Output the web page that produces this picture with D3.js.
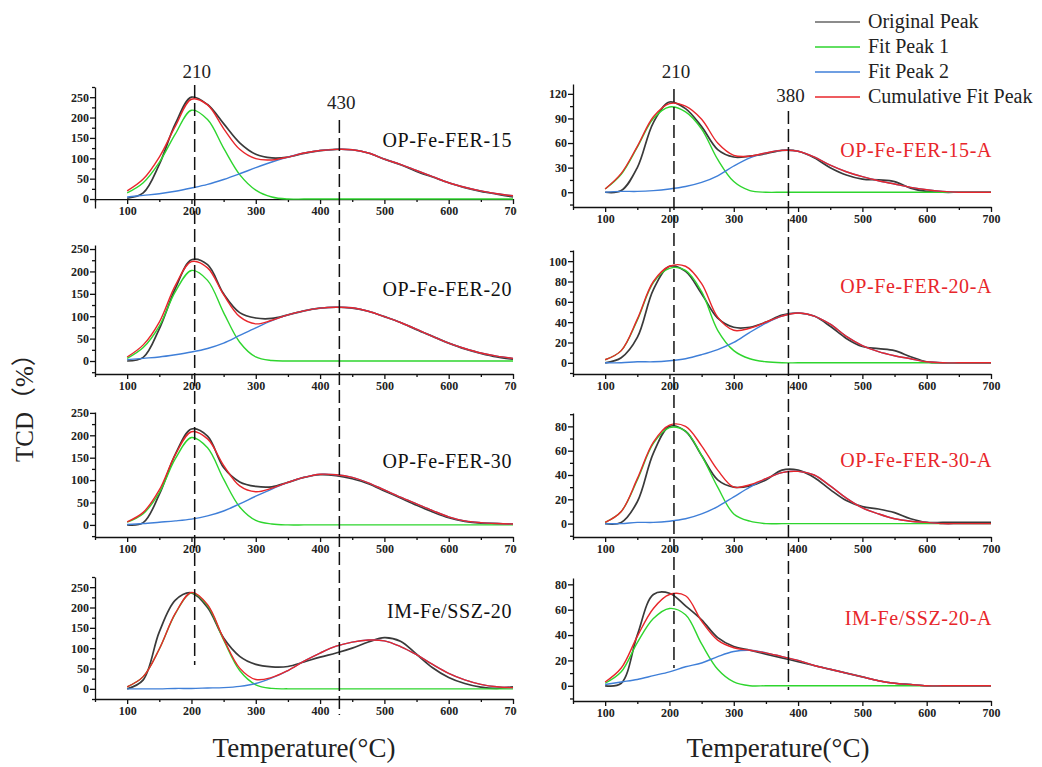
<!DOCTYPE html>
<html>
<head>
<meta charset="utf-8">
<script src="https://cdn.jsdelivr.net/npm/d3@7"></script>
<style>
  body { margin: 0; background: #fff; }
  svg { display: block; }
</style>
</head>
<body>
<svg id="chart" width="1042" height="767"></svg>
<script>
// temperatures (°C) at which the curves were read
const temps = [100,125,150,175,200,225,250,275,300,325,350,375,400,425,450,475,500,525,550,575,600,625,650,675,700];

// panel order: left column top->bottom, then right column top->bottom
const sampleNames = ["OP-Fe-FER-15","OP-Fe-FER-20","OP-Fe-FER-30","IM-Fe/SSZ-20",
                     "OP-Fe-FER-15-A","OP-Fe-FER-20-A","OP-Fe-FER-30-A","IM-Fe/SSZ-20-A"];

const originalPeak = [
  [2,15,85,185,250,232,185,138,110,101,103,112,119,122,121,113,98,84,68,54,40,28,19,12,5],
  [0,8,72,162,226,215,150,108,96,95,103,112,118,120,118,111,99,86,70,55,40,27,17,9,4],
  [0,5,68,158,214,198,128,96,86,85,95,106,112,110,103,92,76,60,44,29,16,8,4,3,2],
  [0,22,140,218,236,200,125,80,60,54,55,66,78,88,100,115,126,117,85,52,28,13,4,1,5],
  [0,2,30,85,110,102,80,52,43,44,47,51,50,42,30,21,16,15,13,5,1,0,0,0,0],
  [0,5,25,72,95,90,68,44,35,35,40,47,49,46,36,24,16,14,12,6,1,0,0,0,0],
  [0,1,18,58,80,76,56,36,30,31,36,44,44,38,28,19,14,12,9,4,1,1,1,1,1],
  [0,2,40,72,73,63,52,38,31,28,25,22,19,16,13,10,7,4,2,1,0,0,0,0,0]
];
const fitPeak1 = [
  [15,40,90,160,218,195,125,60,22,5,0,0,0,0,0,0,0,0,0,0,0,0,0,0,0],
  [6,30,78,155,202,180,108,42,9,1,0,0,0,0,0,0,0,0,0,0,0,0,0,0,0],
  [6,25,72,148,195,172,102,40,10,2,0,0,0,0,0,0,0,0,0,0,0,0,0,0,0],
  [5,30,98,185,236,205,120,45,10,1,0,0,0,0,0,0,0,0,0,0,0,0,0,0,0],
  [4,22,55,90,104,98,77,40,13,2,0,0,0,0,0,0,0,0,0,0,0,0,0,0,0],
  [3,12,42,79,93,91,70,32,12,4,1,0,0,0,0,0,0,0,0,0,0,0,0,0,0],
  [1,10,36,66,79,76,56,30,8,2,0,0,0,0,0,0,0,0,0,0,0,0,0,0,0],
  [2,11,34,53,61,56,33,13,3,0,0,0,0,0,0,0,0,0,0,0,0,0,0,0,0]
];
const fitPeak2 = [
  [5,9,13,19,27,36,48,62,77,91,103,113,119,122,121,113,98,85,70,55,40,29,20,13,8],
  [3,6,9,14,20,28,40,57,74,90,103,112,118,120,119,111,99,86,71,55,40,28,18,11,6],
  [1,3,6,9,13,20,31,47,64,80,95,106,113,112,106,94,78,62,47,32,18,9,5,3,2],
  [0,0,0,1,1,2,3,6,13,27,45,68,88,105,115,120,118,104,84,60,38,22,11,5,3],
  [0,1,1,2,4,7,12,20,32,42,48,51,50,43,33,25,19,14,10,6,3,1,0,0,0],
  [0,0,1,1,2,4,8,13,20,30,39,46,49,46,38,26,17,11,7,4,1,0,0,0,0],
  [0,0,1,1,2,4,8,14,22,30,37,42,43,40,31,21,13,8,4,2,1,0,0,0,0],
  [1,3,5,8,11,15,18,23,27,28,26,23,20,16,13,10,7,4,2,1,0,0,0,0,0]
];
const cumulativeFit = [
  [20,49,103,179,245,231,173,122,99,96,103,113,119,122,121,113,98,85,70,55,40,29,20,13,8],
  [9,36,87,169,222,208,148,99,83,91,103,112,118,120,119,111,99,86,71,55,40,28,18,11,6],
  [7,28,78,157,208,192,133,87,74,82,95,106,113,112,106,94,78,62,47,32,18,9,5,3,2],
  [5,30,98,186,237,207,123,51,23,28,45,68,88,105,115,120,118,104,84,60,38,22,11,5,3],
  [4,23,56,92,108,105,89,60,45,44,48,51,50,43,33,25,19,14,10,6,3,1,0,0,0],
  [3,12,43,80,95,95,78,45,32,34,40,46,49,46,38,26,17,11,7,4,1,0,0,0,0],
  [1,10,37,67,81,80,64,44,30,32,37,42,43,40,31,21,13,8,4,2,1,0,0,0,0],
  [3,14,39,61,72,71,51,36,30,28,26,23,20,16,13,10,7,4,2,1,0,0,0,0,0]
];

const xTicks = [100,200,300,400,500,600,700];
const yTicks = [
  [0,50,100,150,200,250],[0,50,100,150,200,250],[0,50,100,150,200,250],[0,50,100,150,200,250],
  [0,30,60,90,120],[0,20,40,60,80,100],[0,20,40,60,80],[0,20,40,60,80]
];
const yDomains = [[-22,275],[-29,259],[-27,252],[-25,275],[-18,132],[-11,111],[-11,91],[-12,85]];

// reference lines per column
const markTemps = [[205,430],[207,385]];
const markLabels = [["210","430"],["210","380"]];

const seriesNames = ["Original Peak","Fit Peak 1","Fit Peak 2","Cumulative Fit Peak"];
const seriesColors = ["#3a3a3a","#2ed52e","#3f7fd8","#e8262b"];

// ---- layout ----
const svg = d3.select("#chart");
const serif = "'Liberation Serif','Times New Roman',serif";
const colX = [
  d3.scaleLinear().domain([50,700]).range([95,513]),
  d3.scaleLinear().domain([50,700]).range([573,991])
];
const yRanges = [[208,87],[374,245],[537,412],[699,577],[207,84],[374,250],[537,413],[701,578]];
const labelBase = [147,296,468,618,157,293,467,625];

svg.append("clipPath").attr("id","leftClip")
  .append("rect").attr("x",0).attr("y",0).attr("width",517).attr("height",767);

const line = d3.line().curve(d3.curveCatmullRom.alpha(0.5));

sampleNames.forEach((name, i) => {
  const col = i < 4 ? 0 : 1;
  const x = colX[col];
  const y = d3.scaleLinear().domain(yDomains[i]).range(yRanges[i]);
  const g = svg.append("g");
  if (col === 0) g.attr("clip-path","url(#leftClip)");

  // y axis with minor ticks
  const yt = yTicks[i];
  const step = yt[1] - yt[0];
  const yMinor = [];
  for (let v = yt[0] - step / 2; v <= yDomains[i][1]; v += step) {
    if (v >= yDomains[i][0] && !yt.includes(v)) yMinor.push(v);
  }
  g.append("g").attr("transform",`translate(${x(50)},0)`)
    .call(d3.axisLeft(y).tickValues(yMinor).tickSize(3).tickSizeOuter(0).tickFormat(""))
    .call(a => a.select(".domain").remove());
  const yAx = g.append("g").attr("transform",`translate(${x(50)},0)`)
    .call(d3.axisLeft(y).tickValues(yt).tickSize(5).tickSizeOuter(0).tickPadding(1));

  // x axis: first panel crosses at zero, others at the bottom
  const xAt = i === 0 ? 0 : yDomains[i][0];
  const xMinor = [50,150,250,350,450,550,650];
  g.append("g").attr("transform",`translate(0,${y(xAt)})`)
    .call(d3.axisBottom(x).tickValues(xMinor).tickSize(3).tickSizeOuter(0).tickFormat(""))
    .call(a => a.select(".domain").remove());
  const xAx = g.append("g").attr("transform",`translate(0,${y(xAt)})`)
    .call(d3.axisBottom(x).tickValues(xTicks).tickSize(5).tickSizeOuter(0).tickPadding(2));

  [yAx, xAx].forEach(a => {
    a.selectAll("path,line").attr("stroke","#111").attr("stroke-width",1.3);
    a.selectAll("text").attr("font-family",serif).attr("font-weight","bold")
      .attr("font-size","12px").attr("fill","#222");
  });
  g.selectAll("line").attr("stroke","#111").attr("stroke-width",1.3);

  // curves
  [originalPeak[i], fitPeak1[i], fitPeak2[i], cumulativeFit[i]].forEach((vals, s) => {
    g.append("path")
      .attr("d", line(vals.map((v, k) => [x(temps[k]), y(v)])))
      .attr("fill","none")
      .attr("stroke", seriesColors[s])
      .attr("stroke-width", s === 0 ? 1.7 : 1.4);
  });

  g.append("text")
    .attr("x", col === 0 ? 512 : 992).attr("y", labelBase[i])
    .attr("text-anchor","end")
    .attr("font-family",serif).attr("font-size","20px").attr("letter-spacing","0.6px")
    .attr("fill", col === 0 ? "#111" : "#e8262b")
    .text(name);
});

// dashed reference lines
const dashSpan = [[[85,665],[120,715]],[[89,668],[111,690]]];
const dashLabelY = [[78,109],[78,102]];
markTemps.forEach((temps2, col) => {
  temps2.forEach((t, j) => {
    const xx = colX[col](t);
    svg.append("line")
      .attr("x1",xx).attr("x2",xx)
      .attr("y1",dashSpan[col][j][0]).attr("y2",dashSpan[col][j][1])
      .attr("stroke","#111").attr("stroke-width",1.5)
      .attr("stroke-dasharray","13,5");
    svg.append("text")
      .attr("x", xx + 2).attr("y", dashLabelY[col][j])
      .attr("text-anchor","middle")
      .attr("font-family",serif).attr("font-size","19px").attr("fill","#222")
      .text(markLabels[col][j]);
  });
});

// legend
seriesNames.forEach((n, s) => {
  const yy = 22 + s * 25;
  svg.append("line").attr("x1",815).attr("x2",860).attr("y1",yy).attr("y2",yy)
    .attr("stroke", s === 0 ? "#666" : seriesColors[s]).attr("stroke-width",1.5);
  svg.append("text").attr("x",868).attr("y",yy + 6)
    .attr("font-family",serif).attr("font-size","20px").attr("fill","#222")
    .text(n);
});

// axis titles
svg.append("text")
  .attr("transform","translate(33,462) rotate(-90)")
  .attr("font-family","'Liberation Serif','Noto Sans CJK SC',serif")
  .attr("font-size","25px").attr("fill","#222")
  .text("TCD（%）");

[304, 778].forEach(cx => {
  svg.append("text").attr("x",cx).attr("y",757)
    .attr("text-anchor","middle")
    .attr("font-family",serif).attr("font-size","27px").attr("fill","#222")
    .text("Temperature(°C)");
});
</script>
</body>
</html>
